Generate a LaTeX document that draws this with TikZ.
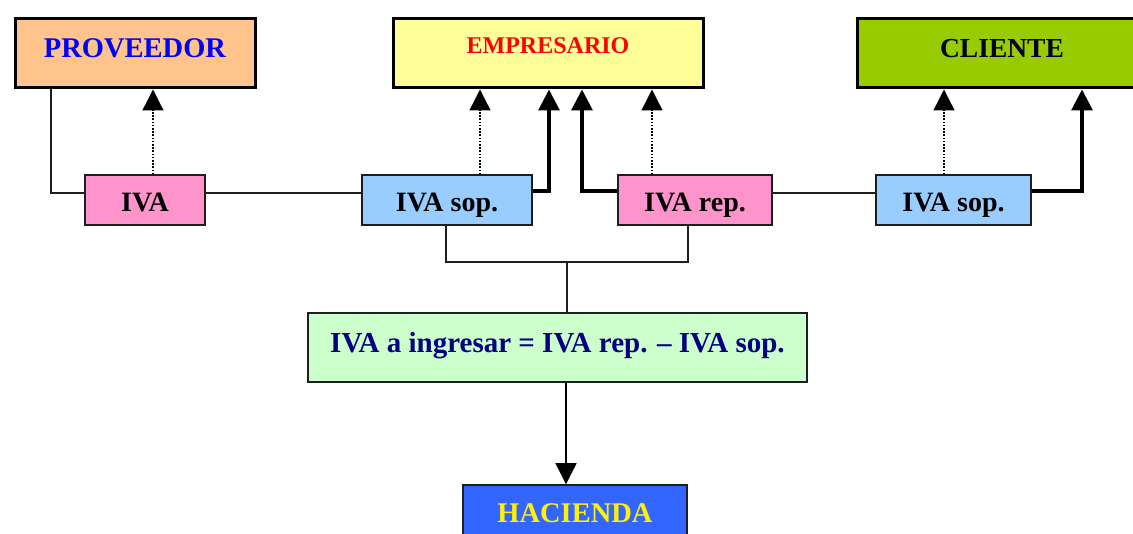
\documentclass[tikz,border=0pt]{standalone}
\usepackage{fontspec}
\setmainfont{Liberation Serif}
\usetikzlibrary{arrows.meta}
\definecolor{cprov}{RGB}{255,196,140}
\definecolor{cemp}{RGB}{255,255,153}
\definecolor{ccli}{RGB}{153,204,0}
\definecolor{cpink}{RGB}{255,148,204}
\definecolor{cblue}{RGB}{153,204,255}
\definecolor{cgreen}{RGB}{204,255,204}
\definecolor{chac}{RGB}{51,102,255}
\definecolor{cnavy}{RGB}{0,0,128}
\definecolor{cline}{RGB}{30,30,30}
\begin{document}
\begin{tikzpicture}[x=1pt,y=-1pt,
  bigbox/.style={draw=black,line width=3pt,minimum height=69pt,inner sep=0pt},
  smallbox/.style={draw=cline,line width=1.3pt,minimum height=50pt,inner sep=0pt,text height=23pt,text depth=0pt,font=\fontsize{28}{30}\selectfont\bfseries},
  conn/.style={draw=cline,line width=1.3pt},
  thickconn/.style={draw=black,line width=3.2pt,-{Triangle[length=21pt,width=21pt]}},
  dotconn/.style={draw=black,line width=1.3pt,dash pattern=on 1.6pt off 1.6pt,-{Triangle[length=21pt,width=21pt]}},
  downconn/.style={draw=black,line width=1.3pt,-{Triangle[length=21pt,width=21pt]}}]
\useasboundingbox (0,0) rectangle (1133,534);
\clip (0,0) rectangle (1133,534);
\fill[white] (0,0) rectangle (1133,534);
% top boxes
\node[bigbox,fill=cprov,minimum width=240pt,label={[yshift=5pt,text=blue,font=\fontsize{28.5}{30}\selectfont\bfseries]center:PROVEEDOR}] (prov) at (135,53.5) {};
\node[bigbox,fill=cemp,minimum width=310pt,label={[yshift=8pt,text=red,font=\fontsize{24}{28}\selectfont\bfseries]center:EMPRESARIO}] (emp) at (548,53.5) {};
\node[bigbox,fill=ccli,minimum width=290pt,label={[xshift=0pt,yshift=5pt,text=black!85!blue,font=\fontsize{27.5}{30}\selectfont\bfseries]center:CLIENTE}] (cli) at (1002,53.5) {};
% small boxes
\node[smallbox,fill=cpink,minimum width=120pt] (iva) at (145,200) {IVA};
\node[smallbox,fill=cblue,minimum width=170pt] (sop1) at (447,200) {IVA sop.};
\node[smallbox,fill=cpink,minimum width=154pt] (rep) at (695,200) {IVA rep.};
\node[smallbox,fill=cblue,minimum width=155pt] (sop2) at (953.5,200) {IVA sop.};
% formula box
\node[draw=cline,line width=1.3pt,fill=cgreen,minimum width=499pt,minimum height=69pt,inner sep=0pt,
  label={[yshift=2pt,text=cnavy,font=\fontsize{29}{32}\selectfont\bfseries]center:IVA a ingresar = IVA rep. -- IVA sop.}] (calc) at (557.5,347.5) {};
% hacienda
\node[draw=cline,line width=1.5pt,fill=chac,minimum width=224pt,minimum height=60pt,inner sep=0pt,
  label={[yshift=2pt,text=yellow,font=\fontsize{28.5}{30}\selectfont\bfseries]center:HACIENDA}] (hac) at (575,515) {};
% thin connectors
\draw[conn] ([xshift=-84pt]prov.south) |- ([yshift=7pt]iva.west);
\draw[conn] ([yshift=7pt]iva.east) -- ([yshift=7pt]sop1.west);
\draw[conn] ([yshift=7pt]rep.east) -- ([yshift=7pt]sop2.west);
% dotted arrows
\draw[dotconn] ([xshift=8pt]iva.north) -- ([xshift=8pt]iva.north |- prov.south);
\draw[dotconn] ([xshift=33pt]sop1.north) -- ([xshift=33pt]sop1.north |- emp.south);
\draw[dotconn] ([xshift=-43pt]rep.north) -- ([xshift=-43pt]rep.north |- emp.south);
\draw[dotconn] ([xshift=-9.5pt]sop2.north) -- ([xshift=-9.5pt]sop2.north |- cli.south);
% thick arrows
\draw[thickconn] ([yshift=9pt]sop1.east) -| ([xshift=1pt]emp.south);
\draw[thickconn] ([yshift=9pt]rep.west) -| ([xshift=34pt]emp.south);
\draw[thickconn] ([yshift=9pt]sop2.east) -| ([xshift=80pt]cli.south);
% bracket
\coordinate (j) at (567,262);
\draw[conn] ([xshift=-1pt]sop1.south) |- (j) -| ([xshift=-7pt]rep.south);
\draw[conn] (j) -- (j |- calc.north);
% to hacienda
\draw[downconn] ([xshift=8.5pt]calc.south) -- ([xshift=8.5pt]calc.south |- hac.north);
\end{tikzpicture}
\end{document}
